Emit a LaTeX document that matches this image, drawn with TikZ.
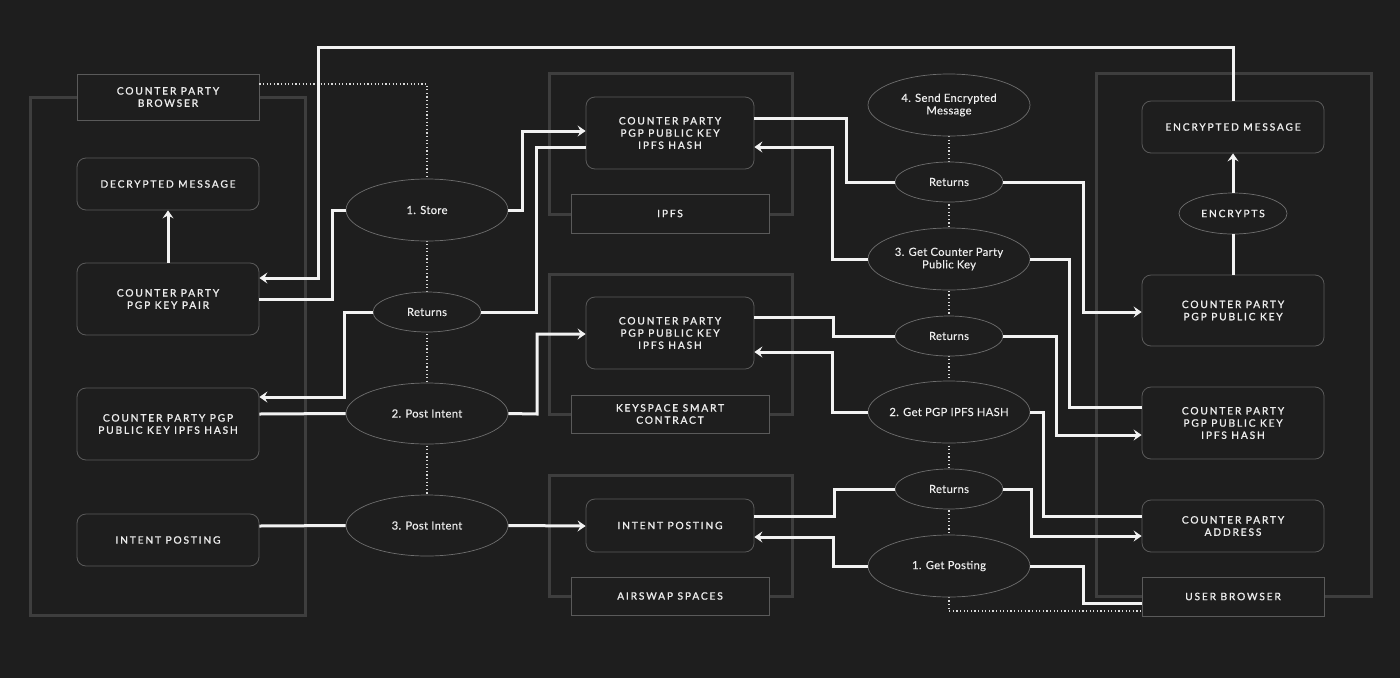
\documentclass[tikz,border=0pt]{standalone}
\usepackage{fontspec}
\setmainfont{Lato}
\newfontfamily\capsfont[LetterSpace=18,FakeBold=1.3]{Lato}
\newfontfamily\ellfont[LetterSpace=3,FakeBold=0.3]{Lato}
\usetikzlibrary{shapes.geometric,arrows.meta,calc}
\definecolor{bg}{HTML}{1E1E1E}
\definecolor{contc}{HTML}{3E3E3E}
\definecolor{boxc}{HTML}{5A5A5A}
\definecolor{ellc}{HTML}{6E6E6E}
\definecolor{txt}{HTML}{EDEDED}
\tikzset{
  container/.style={draw=contc,line width=3pt},
  cbox/.style={draw=boxc,line width=0.8pt,fill=bg,rounded corners=9pt,minimum width=182pt,inner sep=0pt,align=center,text=txt,font=\capsfont\fontsize{10.2}{12.2}\selectfont},
  lbox/.style={cbox,rounded corners=0pt},
  ell/.style={ellipse,draw=ellc,line width=0.7pt,fill=bg,inner xsep=-25pt,inner ysep=0pt,align=center,text=txt,font=\ellfont\fontsize{11.2}{12.5}\selectfont},
  conn/.style={draw=white!95!black,line width=3pt},
  arr/.style={conn,-{Stealth[length=8pt,width=11pt,inset=3pt]}},
  dots/.style={draw=white!85!black,line width=1.2pt,dash pattern=on 1.2pt off 2.4pt},
}
\begin{document}
\begin{tikzpicture}[x=1pt,y=-1pt]
\fill[bg] (0,0) rectangle (1400,678);
\useasboundingbox (0,0) rectangle (1400,678);
% containers
\draw[container] (30,97) rectangle (305,615);
\draw[container] (549,73) rectangle (792,214);
\draw[container] (549,274) rectangle (792,414);
\draw[container] (549,475) rectangle (792,596);
\draw[container] (1096,73) rectangle (1371,596);
% left column
\node[lbox,minimum height=46pt] (cpb) at (168,97) {COUNTER PARTY\\BROWSER};
\node[cbox,minimum height=52pt] (dec) at (168,184) {DECRYPTED MESSAGE};
\node[cbox,minimum height=72pt] (kp) at (168,299) {COUNTER PARTY\\PGP KEY PAIR};
\node[cbox,minimum height=72pt] (lhash) at (168,424) {COUNTER PARTY PGP\\PUBLIC KEY IPFS HASH};
\node[cbox,minimum height=52pt] (lint) at (168,540) {INTENT POSTING};
% middle boxes
\node[cbox,minimum width=168pt,minimum height=72pt] (ihash) at (670,133) {COUNTER PARTY\\PGP PUBLIC KEY\\IPFS HASH};
\node[lbox,minimum width=198pt,minimum height=39pt] (ipfs) at (670,213.5) {IPFS};
\node[cbox,minimum width=168pt,minimum height=72pt] (khash) at (670,333) {COUNTER PARTY\\PGP PUBLIC KEY\\IPFS HASH};
\node[lbox,minimum width=198pt,minimum height=38pt] (ksc) at (670,414) {KEYSPACE SMART\\CONTRACT};
\node[cbox,minimum width=168pt,minimum height=53pt] (mint) at (670,525.5) {INTENT POSTING};
\node[lbox,minimum width=198pt,minimum height=38pt] (air) at (670,596) {AIRSWAP SPACES};
% right boxes
\node[cbox,minimum height=52pt] (enc) at (1233,127) {ENCRYPTED MESSAGE};
\node[ell,minimum width=108pt,minimum height=41pt,font=\capsfont\fontsize{10.2}{12}\selectfont] (encs) at (1233,213.5) {ENCRYPTS};
\node[cbox,minimum height=71pt] (rpk) at (1233,310.5) {COUNTER PARTY\\PGP PUBLIC KEY};
\node[cbox,minimum height=72pt] (rhash) at (1233,423) {COUNTER PARTY\\PGP PUBLIC KEY\\IPFS HASH};
\node[cbox,minimum height=52pt] (addr) at (1233,526) {COUNTER PARTY\\ADDRESS};
\node[lbox,minimum height=39pt] (ub) at (1233,596.5) {USER BROWSER};
% dotted lines (behind ellipses)
\coordinate (dl1) at (427,84);
\coordinate (dr1) at (949,611);
\draw[dots] (cpb.east |- dl1) -- (dl1) -- (427,495);
\draw[dots] (949,136) -- (dr1) -- (ub.west |- dr1);
% left ellipses
\node[ell,minimum width=162pt,minimum height=62pt] (st) at (427,210) {1. Store};
\node[ell,minimum width=108pt,minimum height=40pt] (ret1) at (427,312) {Returns};
\node[ell,minimum width=162pt,minimum height=61pt] (pi2) at (427,413.5) {2. Post Intent};
\node[ell,minimum width=162pt,minimum height=61pt] (pi3) at (427,525.5) {3. Post Intent};
% right ellipses
\node[ell,minimum width=162pt,minimum height=62pt] (send) at (949,105) {4. Send Encrypted\\Message};
\node[ell,minimum width=108pt,minimum height=40pt] (ret2) at (949,182) {Returns};
\node[ell,minimum width=162pt,minimum height=62pt] (gpk) at (949,259) {3. Get Counter Party\\Public Key};
\node[ell,minimum width=108pt,minimum height=40pt] (ret3) at (949,336) {Returns};
\node[ell,minimum width=162pt,minimum height=62pt] (gph) at (949,412) {2. Get PGP IPFS HASH};
\node[ell,minimum width=108pt,minimum height=40pt] (ret4) at (949,489) {Returns};
\node[ell,minimum width=162pt,minimum height=62pt] (gpo) at (949,566) {1. Get Posting};
% connectors: left part
\draw[arr] (kp.north) -- (dec.south);
\draw[arr] (enc.north) -- (1233,47) -- (318,47) -- (318,278) -- (kp.east |- 0,278);
\draw[conn] (kp.east |- 0,299) -- (332,299) -- (332,210) -- (st.west);
\draw[arr] (st.east) -- (522,210) -- (522,131) -- (ihash.west |- 0,131);
\draw[conn] (ihash.west |- 0,147) -- (536,147) -- (536,312) -- (ret1.east);
\draw[arr] (ret1.west) -- (344,312) -- (344,397) -- (lhash.east |- 0,397);
\draw[conn] (lhash.east |- 0,414) -- (pi2.west);
\draw[arr] (pi2.east) -- (537,414) -- (537,334) -- (khash.west |- 0,334);
\draw[conn] (lint.east |- 0,526) -- (pi3.west);
\draw[arr] (pi3.east) -- (mint.west |- 0,526);
% connectors: right part
\draw[conn] (ihash.east |- 0,118) -- (846,118) -- (846,182) -- (ret2.west);
\draw[arr] (ret2.east) -- (1083,182) -- (1083,312) -- (rpk.west |- 0,312);
\draw[arr] (gpk.west) -- (832,259) -- (832,147) -- (ihash.east |- 0,147);
\draw[conn] (gpk.east) -- (1069,259) -- (1069,407) -- (rhash.west |- 0,407);
\draw[conn] (khash.east |- 0,317) -- (833,317) -- (833,336) -- (ret3.west);
\draw[arr] (ret3.east) -- (1056,336) -- (1056,435) -- (rhash.west |- 0,435);
\draw[arr] (gph.west) -- (832,412) -- (832,352) -- (khash.east |- 0,352);
\draw[conn] (gph.east) -- (1043,412) -- (1043,516) -- (addr.west |- 0,516);
\draw[conn] (mint.east |- 0,516) -- (834,516) -- (834,489) -- (ret4.west);
\draw[arr] (ret4.east) -- (1031,489) -- (1031,536) -- (addr.west |- 0,536);
\draw[arr] (gpo.west) -- (833,566) -- (833,537) -- (mint.east |- 0,537);
\draw[conn] (gpo.east) -- (1083,566) -- (1083,603) -- (ub.west |- 0,603);
\draw[conn] (rpk.north) -- (encs.south);
\draw[arr] (encs.north) -- (enc.south);
\end{tikzpicture}
\end{document}
